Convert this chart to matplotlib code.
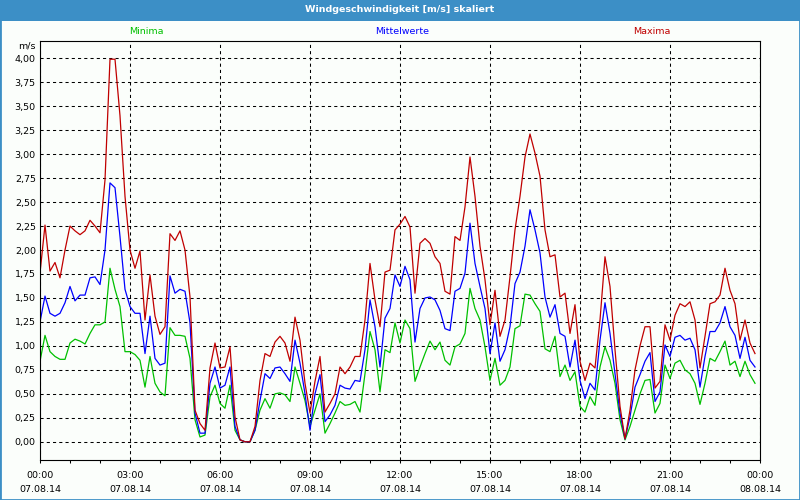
import numpy as np
import pandas as pd
import matplotlib
matplotlib.use('Agg')
import matplotlib.pyplot as plt
import matplotlib.dates as mdates
from matplotlib.ticker import MultipleLocator, FuncFormatter
from matplotlib.patches import Rectangle

# 10-minute values, 07.08.14 00:00 .. 23:50 (12 values = 2 hours per row)
maxima = [
    1.76, 2.26, 1.78, 1.87, 1.71, 2.00, 2.25, 2.20, 2.16, 2.20, 2.31, 2.25,
    2.18, 2.73, 3.99, 3.99, 3.40, 2.56, 2.00, 1.81, 1.99, 1.27, 1.74, 1.31,
    1.12, 1.20, 2.17, 2.10, 2.20, 2.00, 1.51, 0.33, 0.19, 0.12, 0.77, 1.03,
    0.77, 0.78, 0.99, 0.26, 0.02, 0.00, 0.00, 0.16, 0.64, 0.92, 0.89, 1.04,
    1.10, 1.03, 0.84, 1.30, 1.06, 0.61, 0.30, 0.63, 0.89, 0.31, 0.40, 0.50,
    0.78, 0.71, 0.78, 0.89, 0.89, 1.27, 1.86, 1.48, 1.20, 1.77, 1.79, 2.21,
    2.27, 2.35, 2.24, 1.55, 2.07, 2.12, 2.07, 1.93, 1.86, 1.57, 1.54, 2.14,
    2.10, 2.45, 2.97, 2.56, 2.04, 1.69, 1.22, 1.58, 1.10, 1.27, 1.72, 2.21,
    2.56, 2.97, 3.21, 3.01, 2.77, 2.21, 1.93, 1.95, 1.51, 1.55, 1.13, 1.43,
    0.84, 0.64, 0.82, 0.77, 1.27, 1.93, 1.62, 0.96, 0.37, 0.03, 0.33, 0.75,
    1.00, 1.20, 1.20, 0.56, 0.63, 1.22, 1.06, 1.32, 1.44, 1.41, 1.46, 1.27,
    0.77, 1.10, 1.44, 1.46, 1.53, 1.81, 1.58, 1.44, 1.06, 1.27, 1.03, 0.92,
]
mittelwerte = [
    1.25, 1.52, 1.34, 1.31, 1.34, 1.45, 1.62, 1.47, 1.53, 1.53, 1.71, 1.72,
    1.64, 2.00, 2.70, 2.65, 2.14, 1.59, 1.41, 1.34, 1.34, 0.92, 1.31, 0.87,
    0.80, 0.82, 1.73, 1.55, 1.59, 1.57, 1.24, 0.30, 0.09, 0.09, 0.61, 0.78,
    0.56, 0.59, 0.78, 0.16, 0.02, 0.00, 0.00, 0.12, 0.43, 0.71, 0.66, 0.77,
    0.78, 0.71, 0.63, 1.06, 0.82, 0.50, 0.12, 0.50, 0.70, 0.21, 0.28, 0.38,
    0.59, 0.56, 0.55, 0.64, 0.63, 0.96, 1.48, 1.20, 0.78, 1.29, 1.39, 1.74,
    1.62, 1.83, 1.69, 1.04, 1.39, 1.50, 1.51, 1.48, 1.37, 1.18, 1.16, 1.57,
    1.60, 1.76, 2.28, 1.86, 1.62, 1.39, 0.92, 1.24, 0.84, 0.96, 1.20, 1.65,
    1.77, 2.04, 2.42, 2.21, 1.97, 1.51, 1.30, 1.43, 1.13, 1.10, 0.78, 1.06,
    0.64, 0.45, 0.61, 0.54, 1.06, 1.45, 1.13, 0.71, 0.30, 0.03, 0.26, 0.57,
    0.70, 0.84, 0.93, 0.42, 0.52, 1.01, 0.89, 1.09, 1.11, 1.06, 1.08, 0.96,
    0.57, 0.89, 1.15, 1.15, 1.24, 1.41, 1.20, 1.11, 0.87, 1.09, 0.85, 0.78,
]
minima = [
    0.84, 1.11, 0.94, 0.89, 0.86, 0.86, 1.03, 1.07, 1.05, 1.02, 1.13, 1.22,
    1.22, 1.25, 1.81, 1.59, 1.41, 0.94, 0.94, 0.91, 0.85, 0.57, 0.89, 0.61,
    0.52, 0.48, 1.19, 1.11, 1.11, 1.10, 0.87, 0.23, 0.05, 0.07, 0.47, 0.59,
    0.40, 0.35, 0.59, 0.12, 0.02, 0.00, 0.00, 0.12, 0.33, 0.45, 0.35, 0.50,
    0.51, 0.49, 0.42, 0.78, 0.61, 0.43, 0.16, 0.33, 0.50, 0.09, 0.19, 0.30,
    0.42, 0.38, 0.39, 0.42, 0.31, 0.71, 1.15, 0.96, 0.52, 0.96, 0.93, 1.24,
    1.03, 1.27, 1.18, 0.63, 0.78, 0.92, 1.05, 0.96, 1.04, 0.85, 0.80, 0.99,
    1.02, 1.13, 1.60, 1.39, 1.27, 0.99, 0.64, 0.87, 0.59, 0.64, 0.78, 1.18,
    1.21, 1.54, 1.53, 1.44, 1.36, 0.97, 0.94, 1.10, 0.68, 0.80, 0.64, 0.73,
    0.37, 0.31, 0.47, 0.38, 0.78, 0.99, 0.85, 0.61, 0.23, 0.02, 0.16, 0.33,
    0.50, 0.64, 0.65, 0.30, 0.40, 0.80, 0.66, 0.82, 0.85, 0.75, 0.71, 0.61,
    0.39, 0.61, 0.87, 0.84, 0.94, 1.05, 0.80, 0.84, 0.68, 0.84, 0.70, 0.61,
]
zeit = pd.date_range('2014-08-07 00:00', periods=len(maxima), freq='10min')

titel = 'Windgeschwindigkeit [m/s] skaliert'
einheit = 'm/s'
serien = [('Minima', minima, '#00c000'),
          ('Mittelwerte', mittelwerte, '#0000ff'),
          ('Maxima', maxima, '#c00000')]

plt.rcParams['font.family'] = ['DejaVu Sans']
plt.rcParams['font.size'] = 6.8

bg = '#fbfefb'
rahmen = '#3c8fc6'

fig = plt.figure(figsize=(8, 5), dpi=100, facecolor=bg)
ax = fig.add_axes([40 / 800, 40 / 500, 720 / 800, 419 / 500])
ax.set_facecolor(bg)

for name, werte, farbe in serien:
    ax.plot(zeit, werte, color=farbe, linewidth=0.9)

ax.set_xlim(pd.Timestamp('2014-08-07 00:00'), pd.Timestamp('2014-08-08 00:00'))
ax.set_ylim(-0.19, 4.18)

ax.xaxis.set_major_locator(mdates.HourLocator(byhour=range(0, 24, 3)))
ax.xaxis.set_minor_locator(mdates.HourLocator())
ax.xaxis.set_major_formatter(mdates.DateFormatter('%H:%M\n%d.%m.%y'))
ax.yaxis.set_major_locator(MultipleLocator(0.25))
ax.yaxis.set_major_formatter(FuncFormatter(lambda v, p: f'{v:.2f}'.replace('.', ',')))

ax.tick_params(axis='x', which='both', direction='out', length=2.5, width=0.75, pad=5.5)
ax.tick_params(axis='y', length=0, pad=3)
for lbl in ax.get_xticklabels():
    lbl.set_linespacing(1.7)

ax.grid(True, which='major', color='black', linestyle=(0, (3, 3)), linewidth=0.75)
for sp in ax.spines.values():
    sp.set_linewidth(0.8)
    sp.set_color('black')

# Fensterrahmen mit Titelleiste
fig.patches.append(Rectangle((0, 479 / 500), 1, 21 / 500, transform=fig.transFigure,
                             facecolor=rahmen, edgecolor='none', zorder=0))
fig.patches.append(Rectangle((0, 0), 1, 1, transform=fig.transFigure,
                             fill=False, edgecolor=rahmen, linewidth=2, zorder=1))
fig.text(0.5, 1 - 10 / 500, titel, color='white', fontweight='bold',
         ha='center', va='center')

for (name, werte, farbe), xpos in zip(serien, [146, 402, 652]):
    fig.text(xpos / 800, 1 - 31 / 500, name, color=farbe, ha='center', va='center')
fig.text(36 / 800, 1 - 46 / 500, einheit, ha='right', va='center')

fig.savefig('out.png', dpi=100, facecolor=bg)
